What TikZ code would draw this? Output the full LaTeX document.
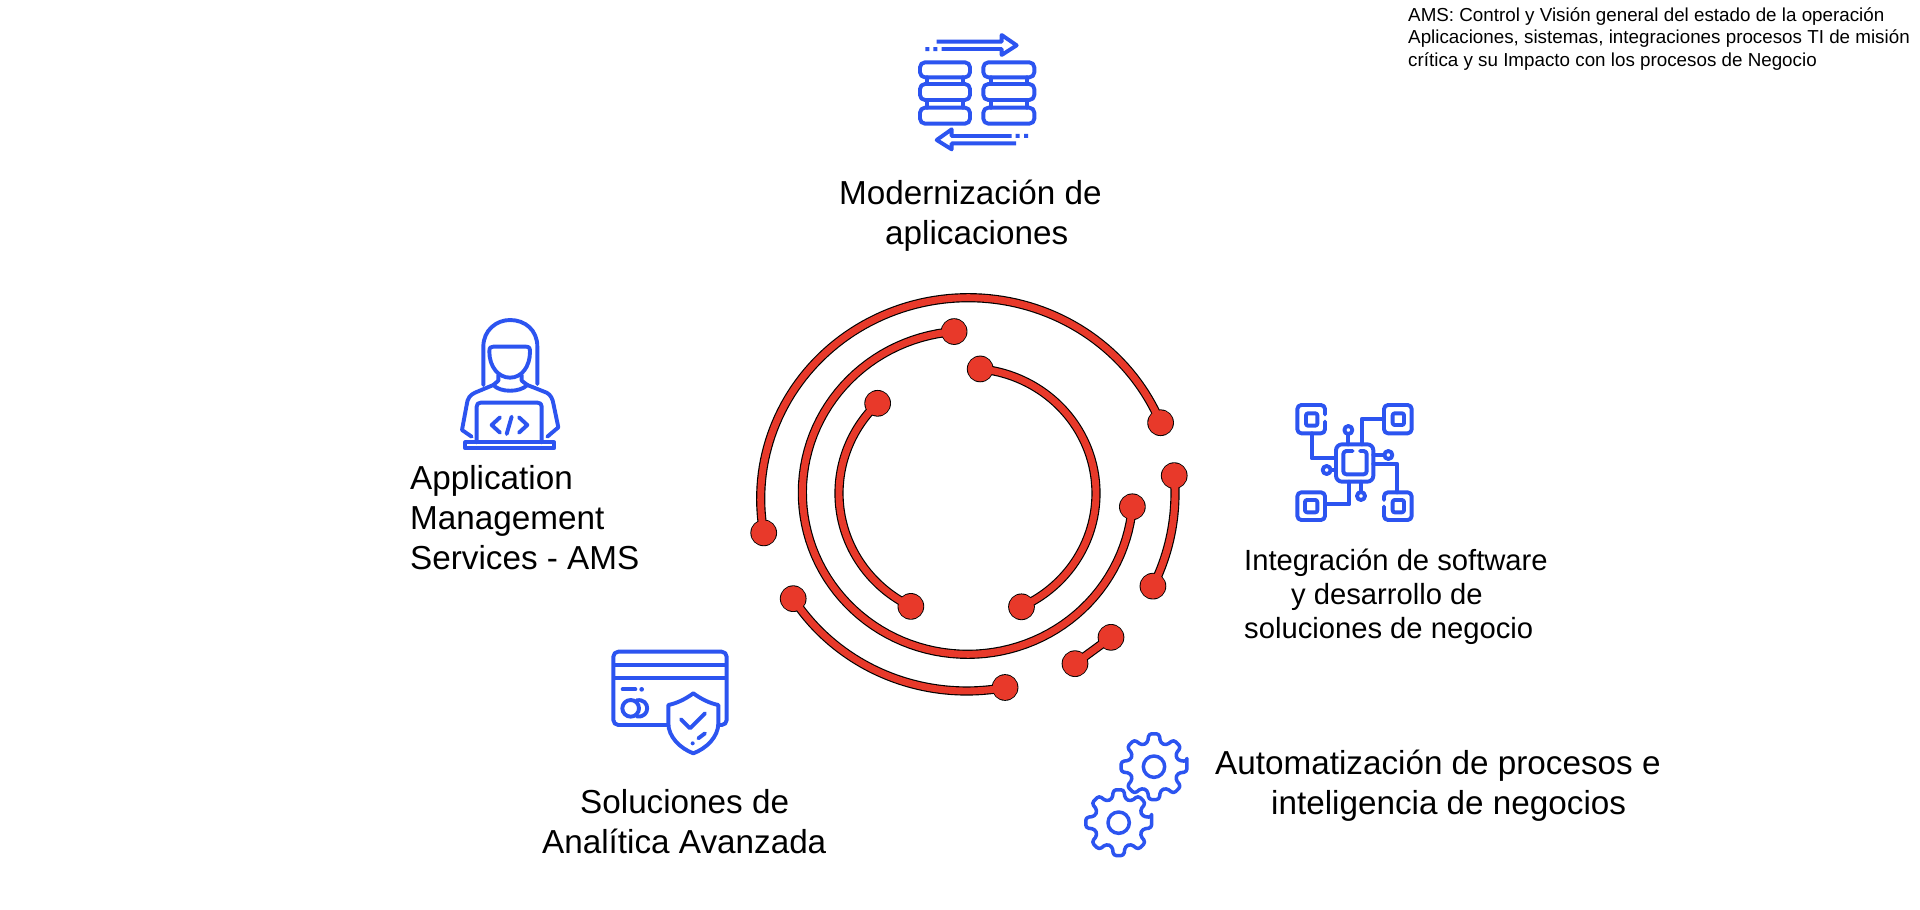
\documentclass[tikz,border=0pt]{standalone}
\usepackage{fontspec}
\setmainfont{Liberation Sans}
\definecolor{iconblue}{HTML}{2C54F0}
\definecolor{ringred}{HTML}{E8392A}
\tikzset{
  biglabel/.style={inner sep=0pt,anchor=west,align=left,text=black,font=\fontsize{33.25}{40}\selectfont},
  midlabel/.style={inner sep=0pt,anchor=west,align=left,text=black,font=\fontsize{29.2}{34}\selectfont},
  smalllabel/.style={inner sep=0pt,anchor=north west,align=left,text=black,font=\fontsize{18.8}{22.8}\selectfont},
  iconline/.style={draw=iconblue,line width=3.9pt,line cap=round,line join=round},
  gearline/.style={draw=iconblue,line width=3.5pt,line cap=round,line join=round},
  icondot/.style={fill=iconblue,draw=none}
}
\newcommand{\ringarc}[8]{%
  % cx cy rx ry t0 t1 colour linewidth
  \draw[#7,line width=#8pt,line cap=butt] plot[domain=#5:#6,samples=90] ({#1+#3*cos(\x)},{#2+#4*sin(\x)});
}
\newcommand{\ringends}[8]{%
  \fill[#7] ({#1+#3*cos(#5)},{#2+#4*sin(#5)}) circle[radius=#8];
  \fill[#7] ({#1+#3*cos(#6)},{#2+#4*sin(#6)}) circle[radius=#8];
}
\newcommand{\wholering}[6]{%
  \ringarc{#1}{#2}{#3}{#4}{#5}{#6}{black}{9.2}
  \ringends{#1}{#2}{#3}{#4}{#5}{#6}{black}{40}
  \ringarc{#1}{#2}{#3}{#4}{#5}{#6}{ringred}{6.9}
  \ringends{#1}{#2}{#3}{#4}{#5}{#6}{ringred}{37.5}
}
\newcommand{\gearicon}[2]{%
  \draw[gearline,rounded corners=3pt]
    ({#1+100*cos(-9)},{#2+100*sin(-9)})
    \foreach \k in {0,...,7}{
      -- ({#1+100*cos(45*\k+9)},{#2+100*sin(45*\k+9)})
      -- ({#1+74*cos(45*\k+15)},{#2+74*sin(45*\k+15)})
      -- ({#1+74*cos(45*\k+30)},{#2+74*sin(45*\k+30)})
      -- ({#1+100*cos(45*\k+36)},{#2+100*sin(45*\k+36)})
    } -- cycle;
  \draw[gearline] (#1,#2) circle[radius=32];
}
\begin{document}
\begin{tikzpicture}[x=1pt,y=-1pt]
\useasboundingbox (0,0) rectangle (1920,910);
\fill[white] (0,0) rectangle (1920,910);

% rings
\begin{scope}[shift={(720,270)},x=0.33333pt,y=-0.33333pt]
  \wholering{745}{686}{623}{603}{170.2}{337.8}
  \wholering{743}{668}{496}{485}{265.3}{5}
  \wholering{743}{670}{385}{375}{-84.4}{65.2}
  \wholering{743}{670}{386}{378}{225.6}{116.2}
  \wholering{740}{670}{615}{593}{147.8}{79.2}
  \wholering{740}{670}{625}{622}{-4.9}{26.6}
  \draw[black,line width=9.2pt] (1173,1102) -- (1065,1181);
  \fill[black] (1173,1102) circle[radius=40] (1065,1181) circle[radius=40];
  \draw[ringred,line width=6.9pt] (1173,1102) -- (1065,1181);
  \fill[ringred] (1173,1102) circle[radius=37.5] (1065,1181) circle[radius=37.5];
\end{scope}

% servers icon
\begin{scope}[shift={(900,20)},x=0.33333pt,y=-0.33333pt]
  \draw[iconline,line cap=butt,miter limit=4] (110,65) -- (305,65) -- (305,45) -- (350,76) -- (305,105) -- (305,87) -- (125,87);
  \fill[icondot] (76,81) rectangle (88,93) (100,81) rectangle (112,93);
  \foreach \xa/\xb in {60/210,250/403}{
    \draw[iconline,rounded corners=5pt] (\xa,127) rectangle (\xb,172);
    \draw[iconline,rounded corners=5pt] (\xa,192) rectangle (\xb,240);
    \draw[iconline,rounded corners=5pt] (\xa,263) rectangle (\xb,311);
    \draw[iconline] (\xa+22,172) -- (\xa+22,192) (\xb-22,172) -- (\xb-22,192);
    \draw[iconline] (\xa+22,240) -- (\xa+22,263) (\xb-22,240) -- (\xb-22,263);
  }
  \draw[iconline,line cap=butt] (335,348) -- (155,348) -- (155,328) -- (110,360) -- (155,388) -- (155,370) -- (348,370);
  \fill[icondot] (347,342) rectangle (359,354) (372,342) rectangle (384,354);
\end{scope}

% person icon
\begin{scope}[shift={(450,310)},x=0.33333pt,y=-0.33333pt]
  \draw[iconline] (100,225) -- (100,110) .. controls (100,60) and (140,30) .. (180,30) .. controls (225,30) and (262,60) .. (262,110) -- (262,222);
  \draw[iconline] (118,125) .. controls (118,112) and (122,110) .. (130,110) -- (228,110) .. controls (238,110) and (240,115) .. (240,125) .. controls (240,170) and (215,203) .. (180,203) .. controls (145,203) and (118,170) .. (118,125);
  \draw[iconline] (145,195) -- (145,212) -- (130,225) .. controls (150,248) and (210,248) .. (232,225) -- (215,212) -- (215,195);
  \draw[iconline] (130,225) -- (75,248) .. controls (60,255) and (52,265) .. (50,285) -- (36,360) -- (65,380);
  \draw[iconline] (232,225) -- (290,248) .. controls (302,255) and (308,265) .. (311,285) -- (325,352) -- (292,380);
  \draw[iconline] (80,397) -- (80,290) .. controls (80,282) and (84,278) .. (92,278) -- (263,278) .. controls (271,278) and (275,282) .. (275,290) -- (275,397);
  \draw[iconline] (46,397) -- (312,397) -- (312,415) -- (46,415) -- cycle;
  \draw[iconline] (150,322) -- (125,345) -- (150,368);
  \draw[iconline] (185,320) -- (170,372);
  \draw[iconline] (207,322) -- (232,345) -- (207,368);
\end{scope}

% chip icon
\begin{scope}[shift={(1280,395)},x=0.33333pt,y=-0.33333pt]
  \draw[iconline,rounded corners=4pt] (135,58) -- (135,30) -- (52,30) -- (52,115) -- (135,115) -- (135,80);
  \draw[iconline,rounded corners=2pt] (78,55) rectangle (112,92);
  \draw[iconline,rounded corners=4pt] (312,30) rectangle (395,115);
  \draw[iconline,rounded corners=2pt] (338,55) rectangle (372,90);
  \draw[iconline,rounded corners=4pt] (52,292) rectangle (135,375);
  \draw[iconline,rounded corners=2pt] (75,315) rectangle (112,352);
  \draw[iconline,rounded corners=4pt] (312,315) -- (312,292) -- (395,292) -- (395,375) -- (312,375) -- (312,335);
  \draw[iconline,rounded corners=2pt] (338,315) rectangle (372,352);
  \draw[iconline,rounded corners=6pt] (168,148) rectangle (280,260);
  \draw[iconline,rounded corners=3pt] (218,168) -- (190,168) -- (190,238) -- (260,238) -- (260,168) -- (240,168);
  \draw[iconline] (95,115) -- (95,190) -- (168,190);
  \draw[iconline] (312,72) -- (245,72) -- (245,148);
  \draw[iconline] (135,328) -- (208,328) -- (208,260);
  \draw[iconline] (280,207) -- (352,207) -- (352,292);
  \draw[iconline] (205,148) -- (205,118);
  \draw[iconline] (205,105) circle[radius=12];
  \draw[iconline] (280,180) -- (312,180);
  \draw[iconline] (325,180) circle[radius=12];
  \draw[iconline] (168,225) -- (153,225);
  \draw[iconline] (140,225) circle[radius=12];
  \draw[iconline] (243,260) -- (243,290);
  \draw[iconline] (243,303) circle[radius=12];
\end{scope}

% card icon
\begin{scope}[shift={(600,640)},x=0.33333pt,y=-0.33333pt]
  \draw[iconline,rounded corners=5pt] (205,255) -- (40,255) -- (40,35) -- (380,35) -- (380,255) -- (355,255);
  \draw[iconline,line cap=butt] (40,75) -- (380,75) (40,115) -- (380,115);
  \draw[iconline] (68,148) -- (106,148);
  \fill[icondot] (125,148) circle[radius=7];
  \draw[iconline] (92,205) circle[radius=25];
  \draw[iconline] (110,181) .. controls (152,174) and (152,236) .. (110,229);
  \draw[iconline] (280,160) .. controls (255,178) and (230,190) .. (205,195) -- (205,250) .. controls (205,290) and (240,325) .. (280,340) .. controls (320,325) and (355,290) .. (355,250) -- (355,195) .. controls (330,190) and (305,178) .. (280,160) -- cycle;
  \draw[iconline] (243,238) -- (270,265) -- (315,220);
  \draw[iconline] (295,295) -- (315,280);
  \fill[icondot] (278,310) circle[radius=6];
\end{scope}

% gears icon
\begin{scope}[shift={(1070,720)},x=0.33333pt,y=-0.33333pt]
  \gearicon{252}{140}
  \gearicon{146}{308}
\end{scope}

% labels
\node[smalllabel] (note) at (1408,7) {AMS: Control y Visión general del estado de la operación\\Aplicaciones, sistemas, integraciones procesos TI de misión\\crítica y su Impacto con los procesos de Negocio};
\node[biglabel] (modern) at (839,215.5) {Modernización de\\\hspace*{46pt}aplicaciones};
\node[biglabel] (ams) at (410,518) {Application\\Management\\Services - AMS};
\node[midlabel] (integ) at (1244,597) {Integración de software\\\hspace*{47pt}y desarrollo de\\soluciones de negocio};
\node[biglabel] (auto) at (1215,785.5) {Automatización de procesos e\\\hspace*{56pt}inteligencia de negocios};
\node[biglabel] (analit) at (542,822) {\hspace*{38pt}Soluciones de\\Analítica Avanzada};
\end{tikzpicture}
\end{document}
